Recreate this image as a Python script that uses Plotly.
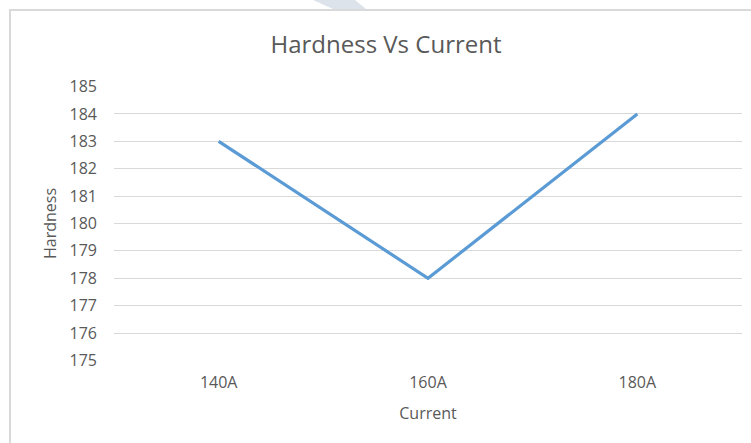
import plotly.graph_objects as go

currents = ["140A", "160A", "180A"]
hardness = [183, 178, 184]
y_ticks = list(range(175, 186))

W, H = 751, 443
# plot area in pixels
L, R, T, B = 114, 742, 86, 361


def px(x):
    return (x - L) / (R - L)


def py(y):
    return (B - y) / (B - T)


fig = go.Figure()
fig.add_trace(go.Scatter(
    x=currents, y=hardness, mode="lines",
    line=dict(color="#5b9bd5", width=3.2),
    hoverinfo="skip",
))

shapes = [
    # chart frame
    dict(type="rect", xref="paper", yref="paper",
         x0=px(10), x1=px(760), y0=py(10), y1=py(460),
         line=dict(color="#d9d9d9", width=2), layer="below"),
    # faint page decoration at the top edge
    dict(type="path", xref="paper", yref="paper",
         path=f"M {px(313)} {py(0)} L {px(355)} {py(0)} L {px(366)} {py(9)} L {px(333)} {py(9)} Z",
         fillcolor="#dde3ea", line=dict(width=0), layer="below"),
]

fig.update_layout(
    width=W, height=H,
    margin=dict(l=L, r=W - R, t=T, b=H - B),
    paper_bgcolor="white", plot_bgcolor="white",
    showlegend=False,
    shapes=shapes,
    title=dict(text="Hardness Vs Current", x=386 / W, xanchor="center",
               y=1 - 45 / H, yanchor="middle",
               font=dict(family="Open Sans", size=24, color="#595959")),
    font=dict(family="Open Sans", color="#595959"),
)
fig.update_xaxes(
    type="category", range=[-0.5, 2.5],
    showgrid=False, showline=False, zeroline=False,
    tickfont=dict(size=16, color="#595959"), ticks="", ticklabelstandoff=10,
    title=dict(text="Current", font=dict(size=16, color="#595959"), standoff=15),
)
fig.update_yaxes(
    range=[174.98, 185.02], tickvals=y_ticks, showgrid=True,
    gridcolor="#d9d9d9", gridwidth=1, zeroline=False, showline=False,
    tickfont=dict(size=16, color="#595959"), ticks="", ticklabelstandoff=16,
    title=dict(text="Hardness", font=dict(size=16, color="#595959"), standoff=8),
)

fig.write_html("out.html")
